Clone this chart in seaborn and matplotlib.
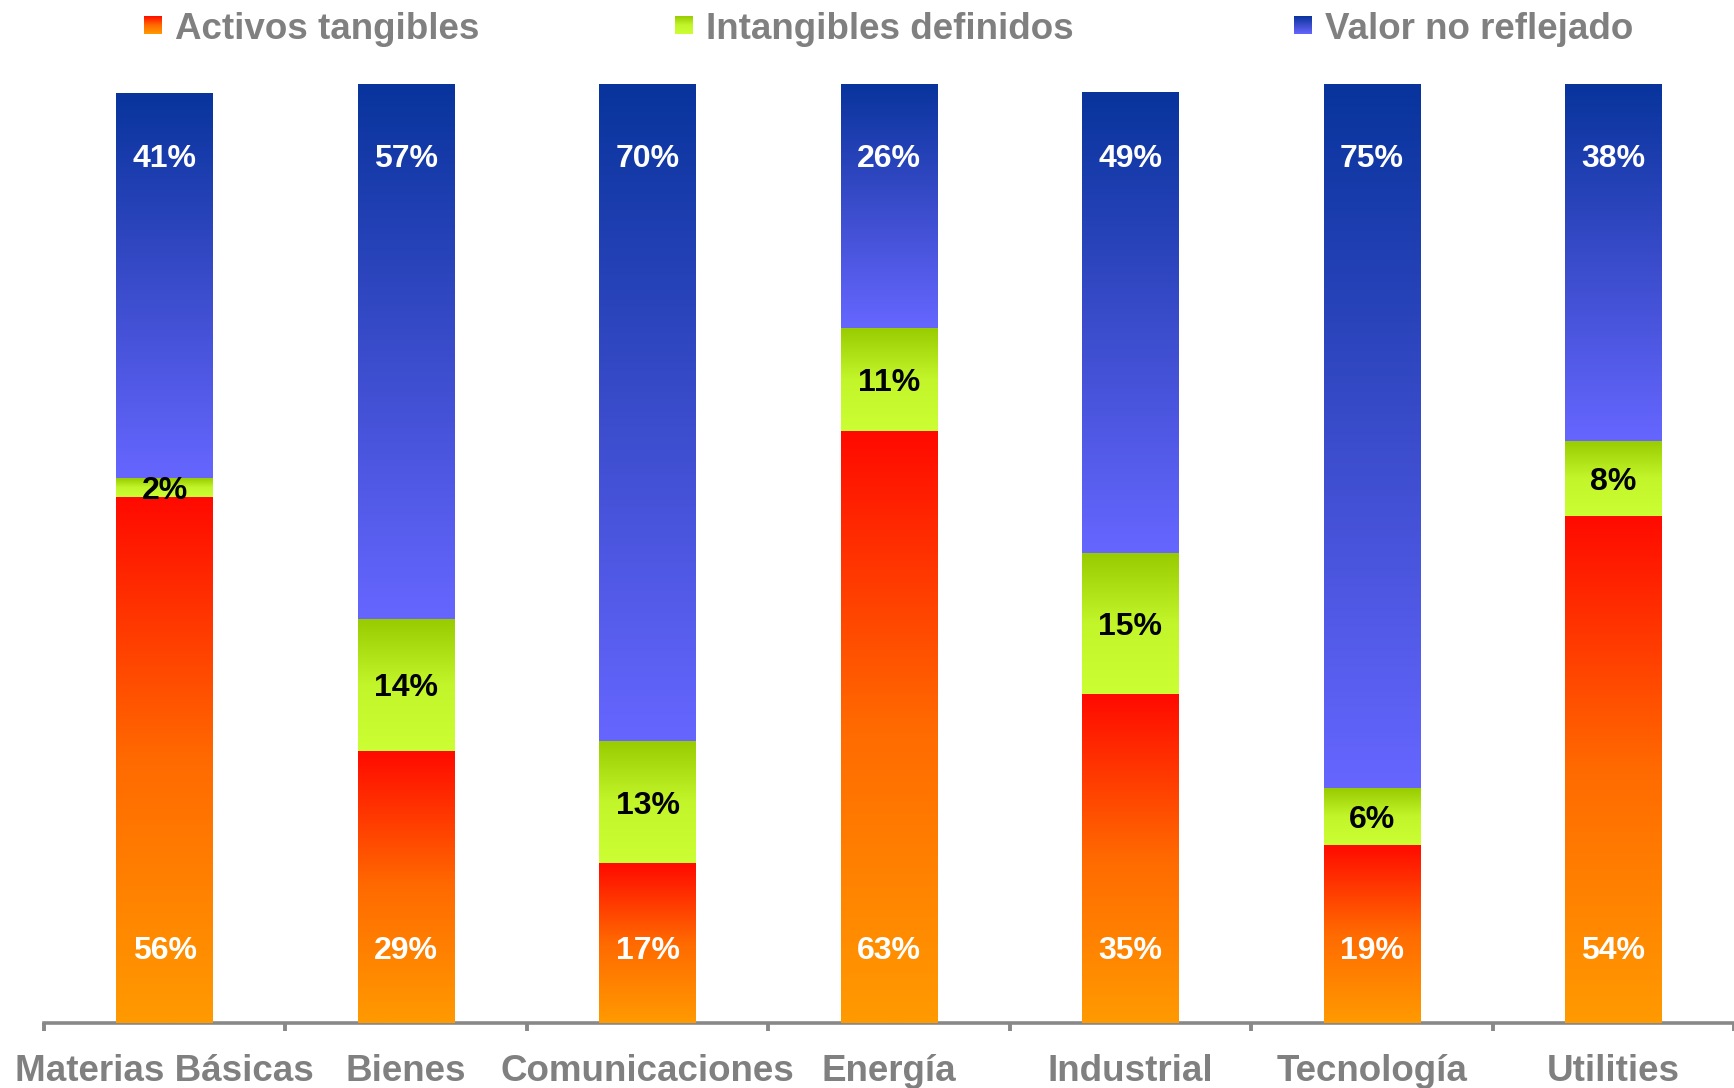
import numpy as np
import pandas as pd
import matplotlib
matplotlib.use("Agg")
import matplotlib.pyplot as plt
from matplotlib.colors import LinearSegmentedColormap
from matplotlib.ticker import FixedLocator
from matplotlib.transforms import offset_copy
import seaborn as sns

# Composición del valor de mercado por sector (%)
categorias = ["Materias Básicas", "Bienes", "Comunicaciones", "Energía",
              "Industrial", "Tecnología", "Utilities"]
activos_tangibles = [56, 29, 17, 63, 35, 19, 54]
intangibles_definidos = [2, 14, 13, 11, 15, 6, 8]
valor_no_reflejado = [41, 57, 70, 26, 49, 75, 38]
series_nombres = ["Activos tangibles", "Intangibles definidos", "Valor no reflejado"]

# degradados de cada serie (abajo -> arriba)
gradientes = [
    ["#FF9A00", "#FF6A00", "#FF0A00"],
    ["#CCFF33", "#C2F52A", "#99CC00"],
    ["#6666FF", "#3A4CCB", "#08349C"],
]
color_etiqueta = ["white", "black", "white"]
GRIS = "#808080"

sns.set_style("white")
plt.rcParams["font.family"] = ["Liberation Sans", "DejaVu Sans"]
plt.rcParams["font.weight"] = "bold"

W, H = 1734, 1088
fig = plt.figure(figsize=(W / 100, H / 100), dpi=100)
ax = fig.add_axes([44 / W, 1 - 1023 / H, 1 - 44 / W, (1023 - 84) / H])

valores = [activos_tangibles, intangibles_definidos, valor_no_reflejado]
base = np.zeros(len(categorias))
segmentos = []
for i, vals in enumerate(valores):
    n0 = len(ax.patches)
    sns.barplot(x=categorias, y=vals, bottom=base.copy(), color=gradientes[i][1],
                width=0.4, linewidth=0, errorbar=None, ax=ax)
    segmentos.append(ax.patches[n0:])
    base = base + np.array(vals)

grad = np.linspace(0, 1, 256).reshape(-1, 1)
for i, parches in enumerate(segmentos):
    cmap = LinearSegmentedColormap.from_list(f"g{i}", gradientes[i])
    for p in parches:
        bb = p.get_bbox()
        ax.imshow(grad, extent=(bb.x0, bb.x1, bb.y0, bb.y1), origin="lower",
                  aspect="auto", cmap=cmap, interpolation="bilinear", zorder=2)
        p.set_visible(False)

ax.set_xlim(-0.5, len(categorias) - 0.5)
ax.set_ylim(0, 100)
ax.set_yticks([])

# etiquetas de valor dentro de las barras
fs_val = 23
trans_txt = offset_copy(ax.transData, fig=fig, x=0, y=-0.716 * fs_val / 2, units="points")
for i, parches in enumerate(segmentos):
    for p, v in zip(parches, valores[i]):
        bb = p.get_bbox()
        xc = (bb.x0 + bb.x1) / 2
        if i == 0:
            yc = 8.0
        elif i == 1:
            yc = (bb.y0 + bb.y1) / 2
        else:
            yc = 92.4
        ax.text(xc, yc, f"{v}%", transform=trans_txt, ha="center", va="baseline",
                fontsize=fs_val, fontweight="bold", color=color_etiqueta[i], zorder=5)

# eje inferior
for s in ["left", "top", "right"]:
    ax.spines[s].set_visible(False)
ax.spines["bottom"].set_color("#888888")
ax.spines["bottom"].set_linewidth(2.6)
ax.spines["bottom"].set_zorder(1)
ax.xaxis.set_minor_locator(FixedLocator(np.arange(-0.5, len(categorias), 1.0)))
ax.tick_params(axis="x", which="minor", bottom=True, length=6, width=2.8,
               color="#888888", direction="out")
ax.tick_params(axis="x", which="major", length=0, pad=42, labelsize=26.5,
               labelcolor=GRIS)
for t in ax.get_xticklabels():
    t.set_fontweight("bold")
    t.set_va("baseline")

# leyenda superior
leyenda_x = [144, 675, 1294]
for i, nombre in enumerate(series_nombres):
    cax = fig.add_axes([leyenda_x[i] / W, 1 - 34 / H, 18 / W, 18 / H])
    cmap = LinearSegmentedColormap.from_list(f"l{i}", gradientes[i])
    cax.imshow(grad, origin="lower", aspect="auto", cmap=cmap, interpolation="bilinear")
    cax.set_axis_off()
    fig.text((leyenda_x[i] + 31) / W, 1 - 39 / H, nombre, ha="left", va="baseline",
             fontsize=26.5, fontweight="bold", color=GRIS)

fig.savefig("out.png", dpi=100)
